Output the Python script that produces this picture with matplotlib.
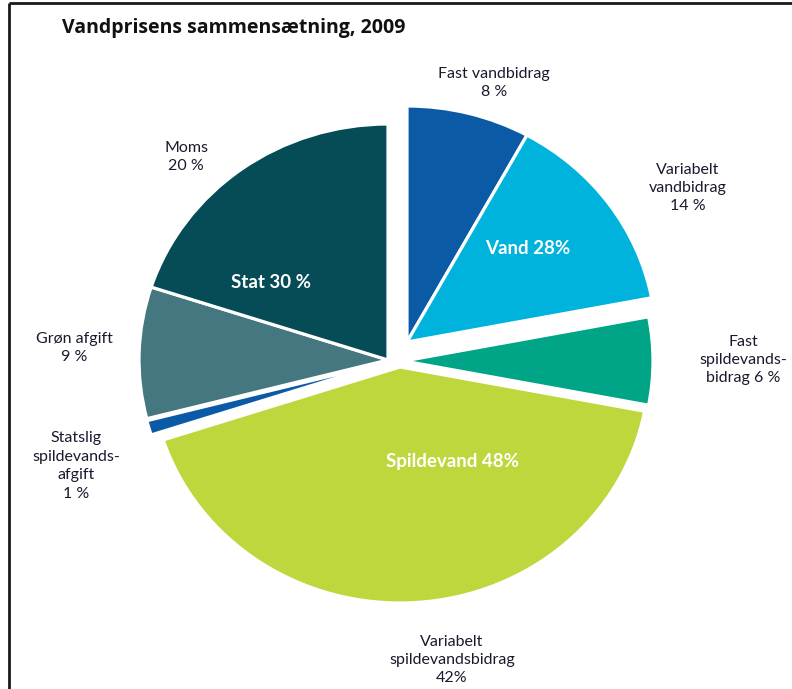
import matplotlib.pyplot as plt
from matplotlib.patches import Wedge
from matplotlib.transforms import Affine2D

# water price breakdown, 2009 (percent of total)
parts = ["Fast vandbidrag", "Variabelt vandbidrag", "Fast spildevandsbidrag",
         "Variabelt spildevandsbidrag", "Statslig spildevandsafgift",
         "Grøn afgift", "Moms"]
shares = [8, 14, 6, 42, 1, 9, 20]
outer_labels = ["Fast vandbidrag\n8 %", "Variabelt\nvandbidrag\n14 %",
                "Fast\nspildevands-\nbidrag 6 %",
                "Variabelt\nspildevandsbidrag\n42%",
                "Statslig\nspildevands-\nafgift\n1 %", "Grøn afgift\n9 %",
                "Moms\n20 %"]
groups = ["Vand 28%", "Spildevand 48%", "Stat 30 %"]

colors = ["#0b5aa6", "#00b3dd", "#00a486", "#bdd73c", "#0b5aa6", "#44777f", "#064c57"]
# pixel offset of each wedge's apex from the pie centre (groups pulled apart)
offsets = [(9, -18), (9, -18), (6, 1), (2, 7), (-10, 2), (-10, 0), (-10, 0)]
label_pos = [(494, 83), (688, 188), (743, 360), (452, 660), (76, 466), (74, 348), (186, 157)]
group_pos = [(528, 248), (453, 462), (271, 282)]

plt.rcParams['font.family'] = ['Lato', 'DejaVu Sans']

fig = plt.figure(figsize=(7.92, 6.89), dpi=100)
ax = fig.add_axes([0, 0, 1, 1])
ax.set_xlim(0, 792)
ax.set_ylim(689, 0)
ax.axis('off')

cx, cy = 398, 360
rx, ry = 249, 236

angle = 90.0
for share, col, (dx, dy) in zip(shares, colors, offsets):
    sweep = share / sum(shares) * 360
    tr = Affine2D().scale(rx, -ry).translate(cx + dx, cy + dy) + ax.transData
    ax.add_patch(Wedge((0, 0), 1, angle - sweep, angle, facecolor=col,
                       edgecolor='white', linewidth=2.3, transform=tr))
    angle -= sweep

for txt, (x, y) in zip(outer_labels, label_pos):
    ax.text(x, y, txt, ha='center', va='center', fontsize=11.5,
            color='#1a1a2e', linespacing=1.4)

for txt, (x, y) in zip(groups, group_pos):
    ax.text(x, y, txt, ha='center', va='center', fontsize=13.5,
            fontweight='bold', color='white')

ax.text(62, 28, "Vandprisens sammensætning, 2009", ha='left', va='center',
        fontsize=14, fontweight='bold', color='#111111', family=['Open Sans', 'DejaVu Sans'])

# frame: top and left rules only
ax.plot([9, 792], [2.5, 2.5], color='#1a1a1a', linewidth=2, solid_capstyle='butt')
ax.plot([9, 9], [2.5, 689], color='#1a1a1a', linewidth=2, solid_capstyle='butt')

fig.savefig("out.png", dpi=100)
